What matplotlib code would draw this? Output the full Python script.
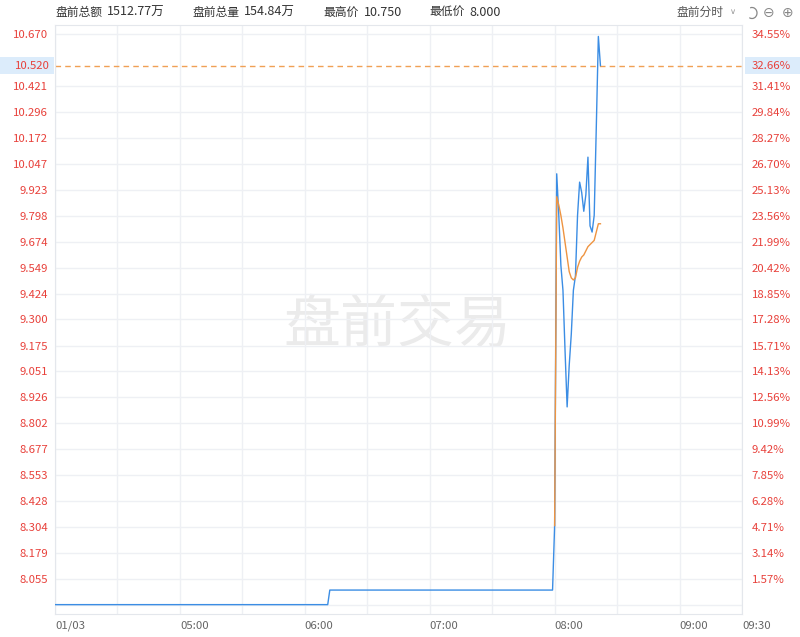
import matplotlib
matplotlib.use('Agg')
import matplotlib.pyplot as plt
from matplotlib.patches import Rectangle, Arc
from matplotlib.transforms import blended_transform_factory, IdentityTransform

plt.rcParams['font.family'] = ['Noto Sans CJK SC', 'DejaVu Sans']

# 昨收 / 基准价
prev_close = 7.93
last_price = 10.52

# 分时价格 (盘前)
price_times = ['04:00', '06:11', '06:12', '07:59',
               '08:00', '08:01', '08:02', '08:03', '08:04', '08:05', '08:06', '08:07',
               '08:08', '08:09', '08:10', '08:11', '08:12', '08:13', '08:14', '08:15',
               '08:16', '08:17', '08:18', '08:19', '08:20', '08:21', '08:22']
price_vals = [7.93, 7.93, 8.00, 8.00,
              8.31, 10.00, 9.80, 9.56, 9.44, 9.15, 8.88, 9.08,
              9.23, 9.44, 9.51, 9.80, 9.96, 9.91, 9.82, 9.90,
              10.08, 9.75, 9.72, 9.80, 10.22, 10.66, 10.52]

# 均价线
avg_times = ['08:00', '08:01', '08:02', '08:03', '08:04', '08:05', '08:06', '08:07',
             '08:08', '08:09', '08:10', '08:11', '08:12', '08:13', '08:14', '08:15',
             '08:16', '08:17', '08:18', '08:19', '08:20', '08:21', '08:22']
avg_vals = [8.31, 9.89, 9.85, 9.80, 9.74, 9.67, 9.60, 9.53,
            9.50, 9.49, 9.50, 9.55, 9.58, 9.60, 9.61, 9.63,
            9.65, 9.66, 9.67, 9.68, 9.72, 9.76, 9.76]

# 坐标轴刻度
price_labels = ['8.055', '8.179', '8.304', '8.428', '8.553', '8.677', '8.802', '8.926',
                '9.051', '9.175', '9.300', '9.424', '9.549', '9.674', '9.798', '9.923',
                '10.047', '10.172', '10.296', '10.421', '10.670']
pct_labels = ['1.57%', '3.14%', '4.71%', '6.28%', '7.85%', '9.42%', '10.99%', '12.56%',
              '14.13%', '15.71%', '17.28%', '18.85%', '20.42%', '21.99%', '23.56%', '25.13%',
              '26.70%', '28.27%', '29.84%', '31.41%', '34.55%']
x_grid_times = ['04:00', '04:30', '05:00', '05:30', '06:00', '06:30', '07:00',
                '07:30', '08:00', '08:30', '09:00', '09:30']
x_labels = ['01/03', '', '05:00', '', '06:00', '', '07:00', '', '08:00', '', '09:00', '09:30']

# 顶部信息栏
header_names = ['盘前总额', '盘前总量', '最高价', '最低价']
header_values = ['1512.77万', '154.84万', '10.750', '8.000']
header_x = [55, 192, 323, 429]


def to_min(t):
    h, m = t.split(':')
    return (int(h) - 4) * 60 + int(m)


RED = '#e8413b'
GRID = '#eef0f4'

fig = plt.figure(figsize=(8, 6.37), dpi=100)
ax = fig.add_axes([55 / 800, 1 - 614 / 637, 687 / 800, 589 / 637])

ax.set_xlim(0, 330)
ax.set_ylim(7.885, 10.715)

# 网格
yt = [prev_close] + [float(s) for s in price_labels]
ax.set_yticks(yt)
ax.set_yticklabels([''] + price_labels)
ax.set_xticks([to_min(t) for t in x_grid_times])
ax.set_xticklabels(x_labels)
ax.grid(True, color=GRID, linewidth=1)
ax.set_axisbelow(True)
for sp in ax.spines.values():
    sp.set_color('#e4e7ec')
ax.tick_params(axis='y', length=0, pad=5, labelsize=8.2, labelcolor=RED)
ax.tick_params(axis='x', length=0, pad=5, labelsize=8.2, labelcolor='#666666')
for lbl in ax.get_xticklabels():
    lbl.set_horizontalalignment('left')

# 右侧百分比
ax2 = ax.twinx()
ax2.set_ylim(ax.get_ylim())
ax2.set_yticks([float(s) for s in price_labels])
ax2.set_yticklabels(pct_labels)
ax2.tick_params(axis='y', length=0, pad=7, labelsize=8.2, labelcolor=RED)
for sp in ax2.spines.values():
    sp.set_visible(False)

# 水印
ax.text(0.499, 0.49, '盘前交易', transform=ax.transAxes, fontsize=41,
        color='#ebebeb', ha='center', va='center', zorder=0)

# 价格线 & 均价线
ax.plot([to_min(t) for t in price_times], price_vals, color='#3b8de4', linewidth=1, zorder=3)
ax.plot([to_min(t) for t in avg_times], avg_vals, color='#ee9441', linewidth=1, zorder=4)

# 最新价虚线
ax.axhline(last_price, color='#f0a055', linestyle=(0, (4, 3)), linewidth=1, zorder=2)

trans = blended_transform_factory(fig.transFigure, ax.transData)
fig.patches.append(Rectangle((0, last_price - 0.039), 54 / 800, 0.078, transform=trans,
                             facecolor='#dcecfb', edgecolor='none', zorder=0))
fig.patches.append(Rectangle((745 / 800, last_price - 0.039), 55 / 800, 0.078, transform=trans,
                             facecolor='#dcecfb', edgecolor='none', zorder=0))
fig.text(50 / 800, last_price, '10.520', transform=trans, ha='right', va='center',
         fontsize=8.2, color=RED)
fig.text(752 / 800, last_price, '32.66%', transform=trans, ha='left', va='center',
         fontsize=8.2, color=RED)

# 顶部信息
for name, val, xp in zip(header_names, header_values, header_x):
    t = fig.text(xp / 800, 1 - 12 / 637, name, fontsize=8.5, color='#333333', va='center')
    off = 6 + 11.5 * len(name)
    fig.text((xp + off) / 800, 1 - 12 / 637, val, fontsize=9, color='#333333', va='center')
fig.text(676 / 800, 1 - 12 / 637, '盘前分时', fontsize=8.5, color='#555555', va='center')
fig.text(733 / 800, 1 - 11 / 637, '∨', fontsize=6, color='#999999', va='center', ha='center',
         family='DejaVu Sans')
fig.add_artist(Arc((752, 637 - 13), 10, 11, theta1=-120, theta2=110,
                   transform=IdentityTransform(), color='#888888', linewidth=0.9))
fig.text(769 / 800, 1 - 13 / 637, '⊖', fontsize=10, color='#888888', va='center', ha='center',
         family='DejaVu Sans')
fig.text(788 / 800, 1 - 13 / 637, '⊕', fontsize=10, color='#888888', va='center', ha='center',
         family='DejaVu Sans')

fig.savefig('out.png', dpi=100)
